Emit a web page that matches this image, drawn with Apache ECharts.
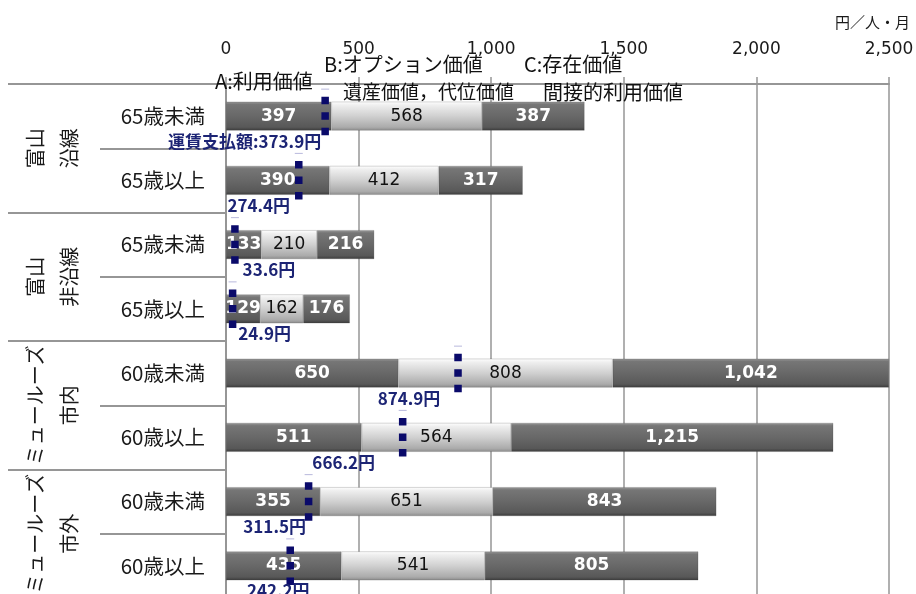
<!DOCTYPE html>
<html lang="ja">
<head>
<meta charset="utf-8">
<title>運賃支払額と利用・オプション・存在価値</title>
<script src="https://cdn.jsdelivr.net/npm/echarts@6/dist/echarts.min.js"></script>
<style>
  html, body { margin: 0; padding: 0; background: #ffffff; }
  #chart { width: 916px; height: 594px; }
</style>
</head>
<body>
<div id="chart"></div>
<script>
// Route / area groups (two rows each) and age bands per row
const groups = ['富山\n沿線', '富山\n非沿線', 'ミュールーズ\n市内', 'ミュールーズ\n市外'];
const ageBands = ['65歳未満', '65歳以上', '65歳未満', '65歳以上', '60歳未満', '60歳以上', '60歳未満', '60歳以上'];

// 円／人・月
const useValue = [397, 390, 133, 129, 650, 511, 355, 435];          // A:利用価値
const optionValue = [568, 412, 210, 162, 808, 564, 651, 541];      // B:オプション価値 遺産価値，代位価値
const existenceValue = [387, 317, 216, 176, 1042, 1215, 843, 805]; // C:存在価値 間接的利用価値
const farePaid = [373.9, 274.4, 33.6, 24.9, 874.9, 666.2, 311.5, 242.2]; // 運賃支払額

const axisMin = 0;
const axisMax = 2500;
const axisStep = 500;

// Label placement for the fare markers (pixel offsets from each marker)
const fareLabelDx = [-4, -40, 34, 32, -49, -59, -34, -12];
const fareLabelAlign = ['right', 'center', 'center', 'center', 'center', 'center', 'center', 'center'];

const FONT_NUM = '"DejaVu Sans", "Noto Sans CJK JP", sans-serif';
const FONT_JP = '"Noto Sans CJK JP", sans-serif';
const GRID_GRAY = '#969696';

function bevel(stops) {
  return new echarts.graphic.LinearGradient(0, 0, 0, 1,
    stops.map(s => ({ offset: s[0], color: s[1] })));
}
const darkFill = bevel([[0, '#9a9a9a'], [0.1, '#767676'], [0.5, '#686868'], [0.88, '#585858'], [1, '#3a3a3a']]);
const lightFill = bevel([[0, '#ffffff'], [0.12, '#efefef'], [0.5, '#d0d0d0'], [0.88, '#ababab'], [1, '#8a8a8a']]);

function withComma(v) {
  return String(v).replace(/\B(?=(\d{3})+(?!\d))/g, ',');
}

function barSeries(name, values, fill, labelColor, bold) {
  return {
    name: name,
    type: 'bar',
    stack: 'total',
    yAxisIndex: 0,
    barWidth: 29,
    data: values,
    itemStyle: { color: fill, borderColor: 'rgba(60,60,60,0.35)', borderWidth: 0.6 },
    label: {
      show: true,
      position: 'inside',
      formatter: p => withComma(p.value),
      color: labelColor,
      fontFamily: FONT_NUM,
      fontWeight: bold ? 'bold' : 'normal',
      fontSize: 17
    },
    emphasis: { disabled: true },
    z: 2
  };
}

function renderFare(params, api) {
  const i = params.dataIndex;
  const p = api.coord([api.value(0), api.value(1)]);
  const x = p[0], y = p[1];
  const v = api.value(0);
  const text = (i === 0 ? '運賃支払額:' : '') + v.toFixed(1) + '円';
  return {
    type: 'group',
    children: [
      { type: 'line', shape: { x1: x - 4, y1: y - 27, x2: x + 4, y2: y - 27 },
        style: { stroke: '#b8b8dc', lineWidth: 1 } },
      { type: 'line', shape: { x1: x, y1: y - 19.5, x2: x, y2: y + 19.5 },
        style: { stroke: '#0a0a6a', lineWidth: 7.5, lineDash: [7.5, 8] } },
      { type: 'text', x: x + fareLabelDx[i], y: y + 25,
        style: { text: text, fill: '#1c2474', font: 'bold 17px ' + FONT_JP,
                 align: fareLabelAlign[i], verticalAlign: 'middle' } }
    ]
  };
}

const chart = echarts.init(document.getElementById('chart'), null, { renderer: 'canvas' });

chart.setOption({
  animation: false,
  backgroundColor: '#ffffff',
  grid: { left: 226, right: 27, top: 84, height: 514, containLabel: false, outerBoundsMode: 'none' },
  xAxis: {
    type: 'value',
    position: 'top',
    min: axisMin,
    max: axisMax,
    interval: axisStep,
    axisLine: { show: true, lineStyle: { color: GRID_GRAY, width: 2 } },
    axisTick: { show: true, length: 7, lineStyle: { color: GRID_GRAY, width: 1.5 } },
    splitLine: { show: true, lineStyle: { color: GRID_GRAY, width: 1.5 } },
    axisLabel: {
      margin: 26,
      fontFamily: FONT_NUM,
      fontSize: 17,
      color: '#1a1a1a',
      formatter: v => withComma(v)
    }
  },
  yAxis: [
    {
      type: 'category',
      inverse: true,
      data: ageBands,
      axisLine: { show: true, lineStyle: { color: GRID_GRAY, width: 2 } },
      axisTick: { show: true, length: 126, lineStyle: { color: GRID_GRAY, width: 2 } },
      axisLabel: { interval: 0, margin: 21, fontFamily: FONT_JP, fontSize: 20.5, color: '#1a1a1a' }
    },
    {
      type: 'category',
      inverse: true,
      position: 'left',
      data: groups,
      axisLine: { show: false },
      axisTick: { show: true, length: 218, lineStyle: { color: GRID_GRAY, width: 2 } },
      axisLabel: {
        interval: 0, rotate: 90, margin: 140,
        fontFamily: FONT_JP, fontSize: 20, lineHeight: 34, color: '#1a1a1a', align: 'center'
      }
    }
  ],
  series: [
    barSeries('A:利用価値', useValue, darkFill, '#ffffff', true),
    barSeries('B:オプション価値 遺産価値，代位価値', optionValue, lightFill, '#111111', false),
    barSeries('C:存在価値 間接的利用価値', existenceValue, darkFill, '#ffffff', true),
    {
      name: '運賃支払額',
      type: 'custom',
      yAxisIndex: 0,
      renderItem: renderFare,
      data: farePaid.map((v, i) => [v, i]),
      clip: false,
      z: 5
    }
  ],
  graphic: [
    { type: 'text', x: 910, y: 22, style: { text: '円／人・月', font: '15px ' + FONT_JP, fill: '#1a1a1a', align: 'right', verticalAlign: 'middle' } },
    { type: 'text', x: 215, y: 81, z: 10, style: { text: 'A:利用価値', font: '20px ' + FONT_JP, fill: '#111111', align: 'left', verticalAlign: 'middle' } },
    { type: 'text', x: 324, y: 64, z: 10, style: { text: 'B:オプション価値', font: '20px ' + FONT_JP, fill: '#111111', align: 'left', verticalAlign: 'middle' } },
    { type: 'text', x: 343, y: 92, z: 10, style: { text: '遺産価値，代位価値', font: '19px ' + FONT_JP, fill: '#111111', align: 'left', verticalAlign: 'middle' } },
    { type: 'text', x: 524, y: 64, z: 10, style: { text: 'C:存在価値', font: '20px ' + FONT_JP, fill: '#111111', align: 'left', verticalAlign: 'middle' } },
    { type: 'text', x: 543, y: 92, z: 10, style: { text: '間接的利用価値', font: '20px ' + FONT_JP, fill: '#111111', align: 'left', verticalAlign: 'middle' } }
  ]
});
</script>
</body>
</html>
